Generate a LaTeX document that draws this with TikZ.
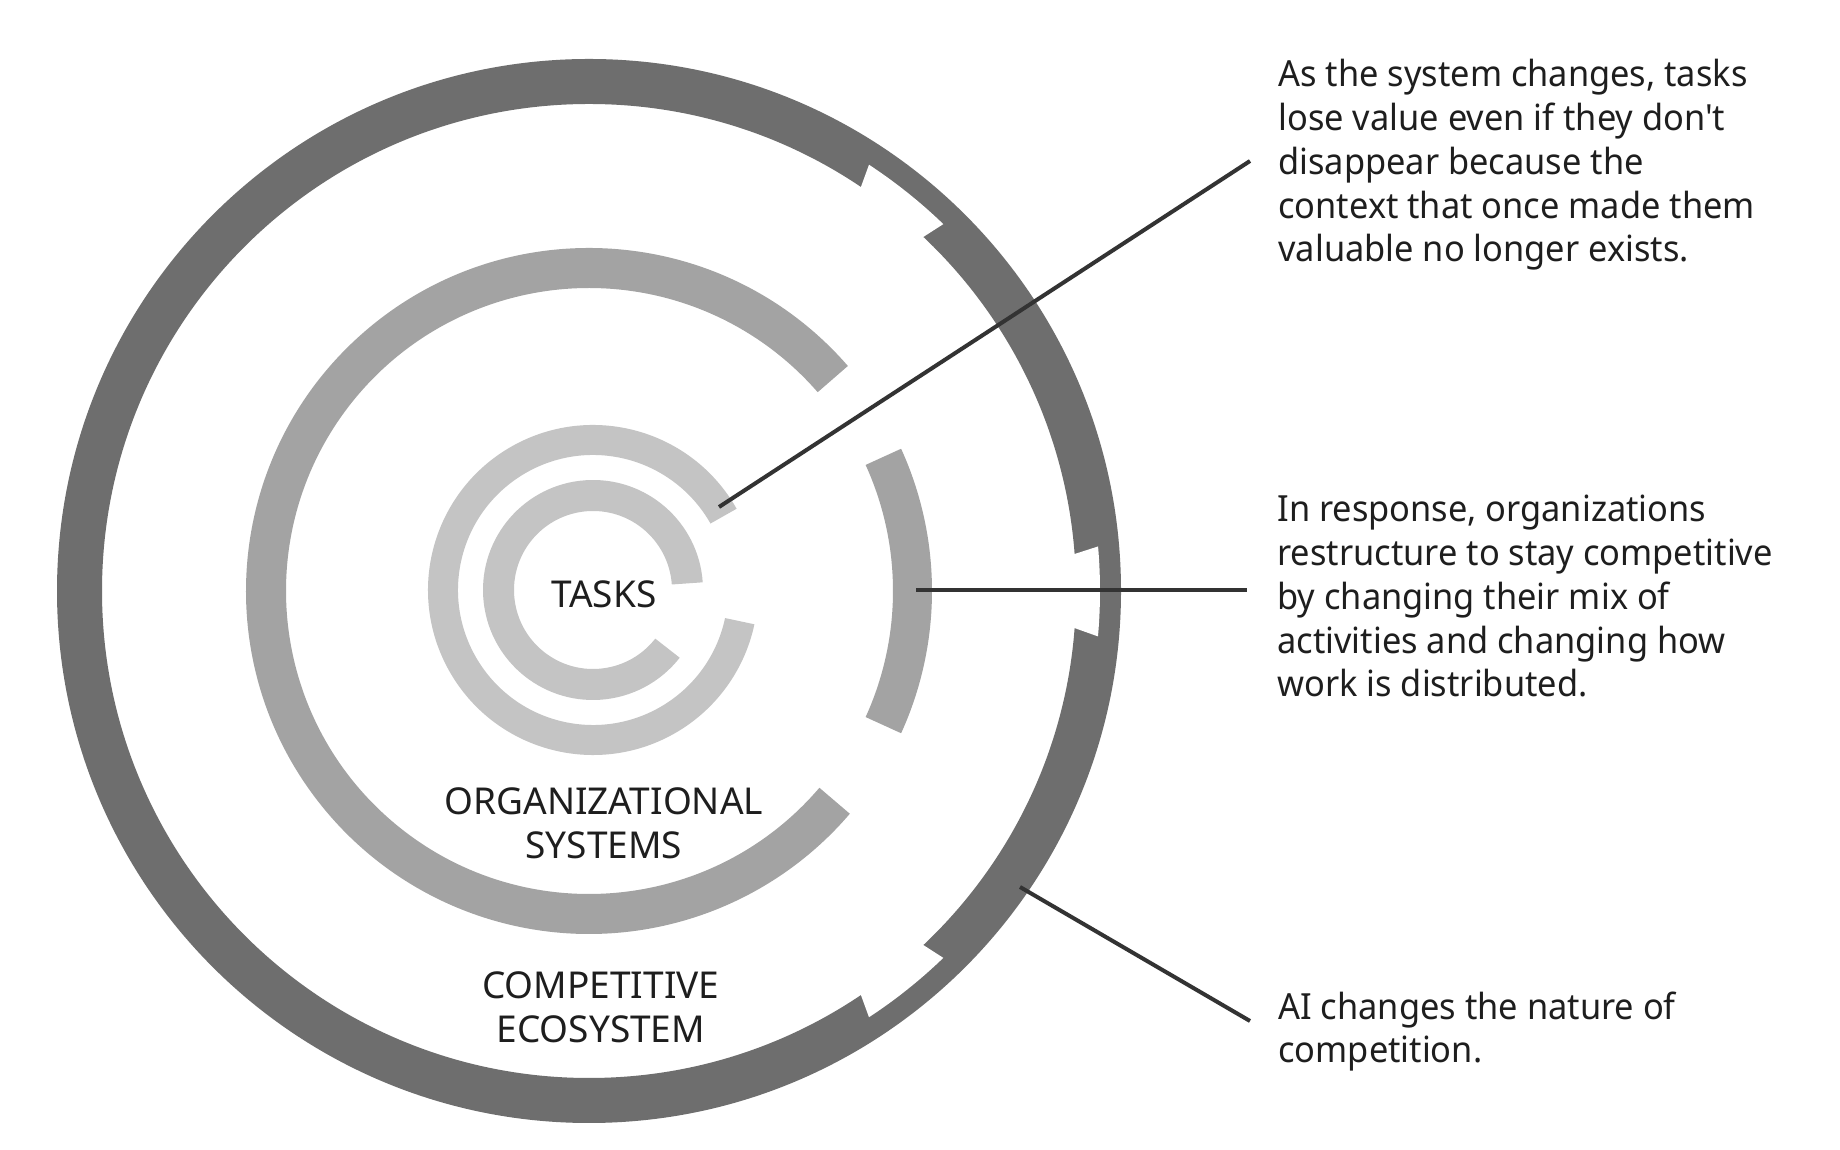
\documentclass[tikz,border=0pt]{standalone}
\usepackage{fontspec}
\setmainfont{Noto Sans}
\newfontfamily\notefont[FakeStretch=0.955]{Noto Sans}
\definecolor{ringdark}{HTML}{6E6E6E}
\definecolor{ringmid}{HTML}{A3A3A3}
\definecolor{ringlight}{HTML}{C4C4C4}
\definecolor{linkc}{HTML}{333333}
\definecolor{textc}{HTML}{1E1E1E}
\begin{document}
\begin{tikzpicture}[x=0.5pt,y=0.5pt,
  linkline/.style={draw=linkc,line width=2pt},
  note/.style={anchor=base west,inner sep=0pt,align=left,text=textc,font=\notefont\fontsize{18}{21.9}\selectfont},
  label/.style={anchor=base,inner sep=0pt,align=center,text=textc,font=\fontsize{18.5}{21.8}\selectfont}]
\fill[white] (0,0) rectangle (1840,1150);
\useasboundingbox (0,0) rectangle (1840,1150);
\begin{scope}[shift={(589,559)}]
  % outer dark ring
  \fill[ringdark,even odd rule] (0,0) circle[radius=532] (0,0) circle[radius=487];
  \fill[white] (46.7:485) arc[start angle=46.7,end angle=56,radius=485] -- (56.7:510) arc[start angle=56.7,end angle=46,radius=510] -- cycle;
  \fill[white] (-4.3:485) arc[start angle=-4.3,end angle=4.3,radius=485] -- (5:511) arc[start angle=5,end angle=-5.1,radius=511] -- cycle;
  \fill[white] (-56:485) arc[start angle=-56,end angle=-46.7,radius=485] -- (-46:510) arc[start angle=-46,end angle=-56.7,radius=510] -- cycle;
  % middle ring
  \fill[ringmid] (41:343) arc[start angle=41,end angle=319.5,radius=343] -- (319.5:303) arc[start angle=319.5,end angle=41,radius=303] -- cycle;
  \fill[ringmid] (-24.5:343) arc[start angle=-24.5,end angle=24.5,radius=343] -- (24.5:304) arc[start angle=24.5,end angle=-24.5,radius=304] -- cycle;
  \begin{scope}[shift={(4,1)}]
    \fill[ringlight] (29.5:165) arc[start angle=29.5,end angle=348,radius=165] -- (348:135) arc[start angle=348,end angle=29.5,radius=135] -- cycle;
    \fill[ringlight] (4:110) arc[start angle=4,end angle=322,radius=110] -- (322:79) arc[start angle=322,end angle=4,radius=79] -- cycle;
  \end{scope}
\end{scope}
% labels
\node[label] (tasks) at (603.8,542) {TASKS};
\node[label] (org) at (603.8,291.6) {ORGANIZATIONAL\\SYSTEMS};
\node[label] (comp) at (600.8,107.5) {COMPETITIVE\\ECOSYSTEM};
% notes (anchor = baseline of last line)
\node[note] (n1) at (1278,888) {As the system changes, tasks\\lose value even if they don't\\disappear because the\\context that once made them\\valuable no longer exists.};
\node[note] (n2) at (1277,453) {In response, organizations\\restructure to stay competitive\\by changing their mix of\\activities and changing how\\work is distributed.};
\node[note] (n3) at (1278,87) {AI changes the nature of\\competition.};
% connector ends
\coordinate (a1) at (719,643);
\coordinate (b1) at (1250,989);
\coordinate (a2) at (916,559.5);
\coordinate (b2) at (1247,559.5);
\coordinate (a3) at (1020,263);
\coordinate (b3) at (1250,129);
\draw[linkline] (a1) -- (b1);
\draw[linkline] (a2) -- (b2);
\draw[linkline] (a3) -- (b3);
\end{tikzpicture}
\end{document}
